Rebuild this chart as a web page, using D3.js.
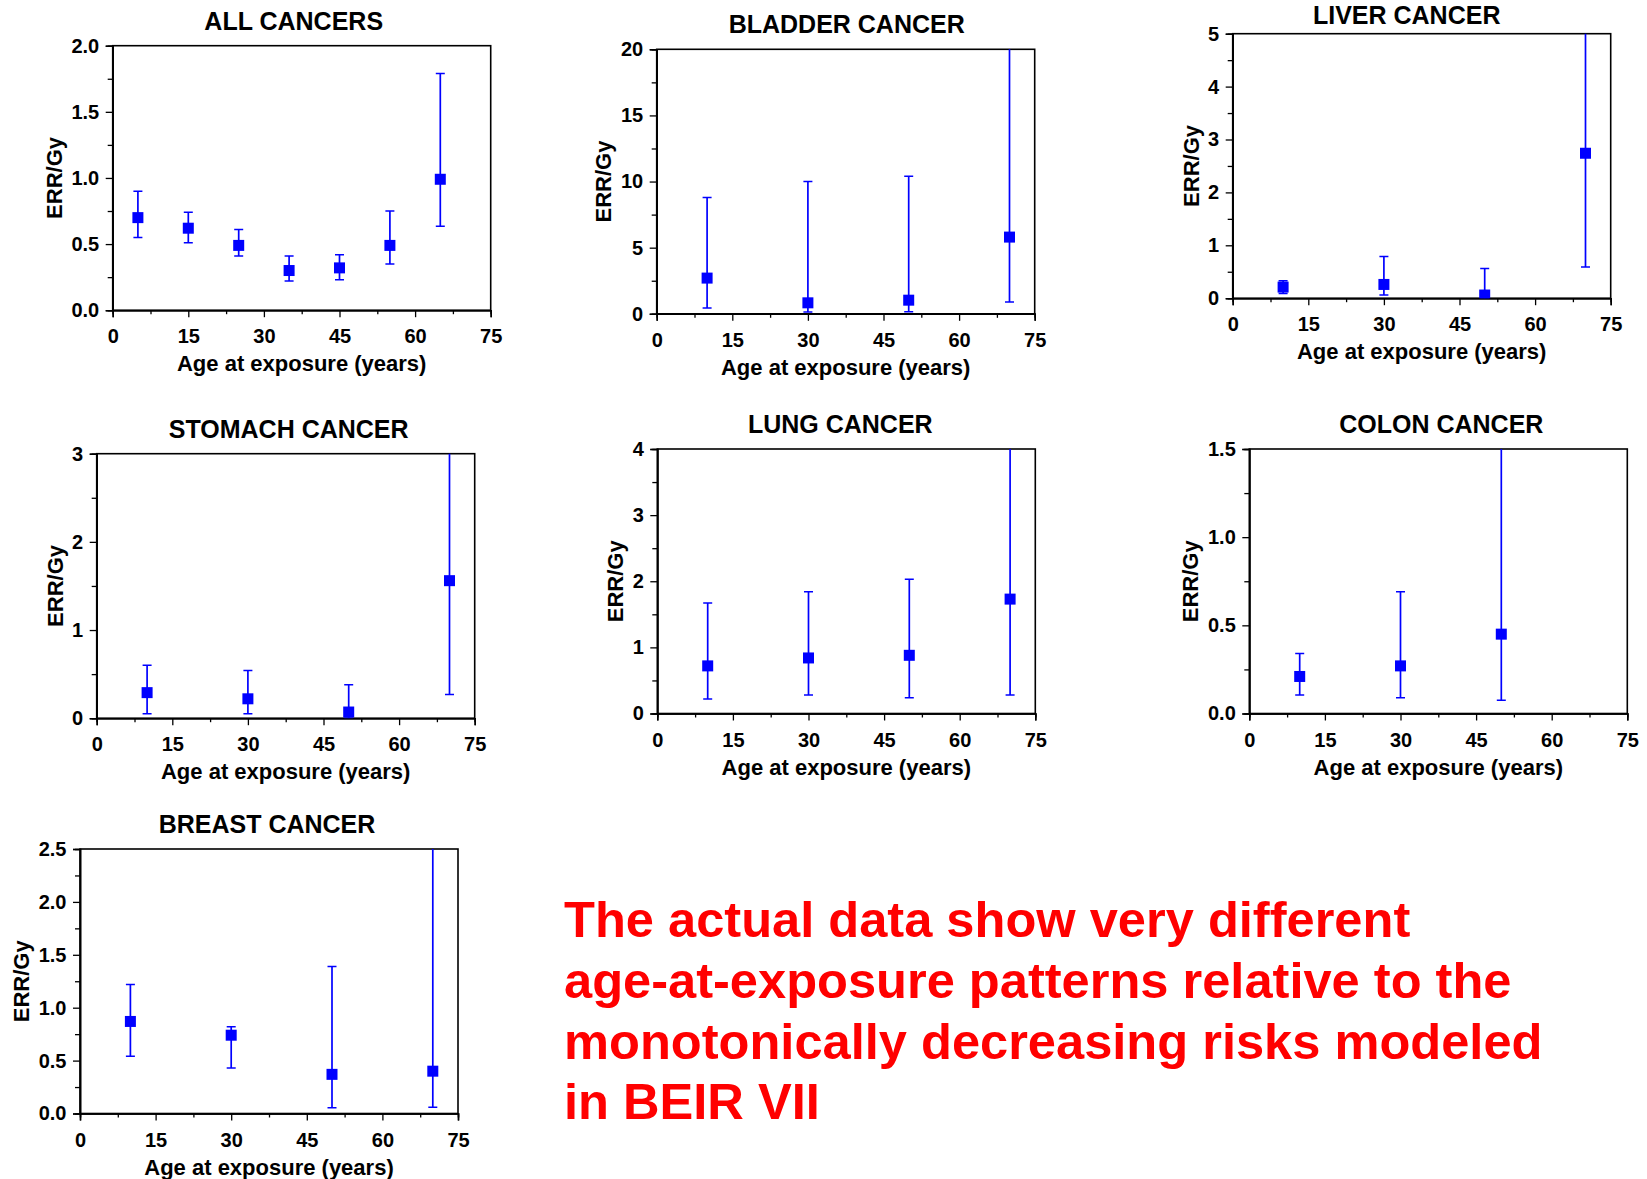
<!DOCTYPE html>
<html>
<head>
<meta charset="utf-8">
<script src="https://d3js.org/d3.v7.min.js"></script>
<style>
  body { margin: 0; background: #fff; }
  svg text { font-family: "Liberation Sans", Arial, sans-serif; font-weight: bold; }
</style>
</head>
<body>
<div id="chart"></div>
<script>
// ---- data ----
var titles = ["ALL CANCERS", "BLADDER CANCER", "LIVER CANCER", "STOMACH CANCER",
  "LUNG CANCER", "COLON CANCER", "BREAST CANCER"];

var ageTicks = [0, 15, 30, 45, 60, 75];

// all cancers
var allAge = [5, 15, 25, 35, 45, 55, 65];
var allErr = [0.70, 0.62, 0.49, 0.30, 0.32, 0.49, 0.99];
var allLo = [0.55, 0.51, 0.41, 0.22, 0.23, 0.35, 0.635];
var allHi = [0.90, 0.74, 0.61, 0.41, 0.42, 0.75, 1.79];

// bladder
var bladderAge = [10, 30, 50, 70];
var bladderErr = [2.7, 0.83, 1.03, 5.8];
var bladderLo = [0.43, 0.13, 0.15, 0.9];
var bladderHi = [8.8, 10.0, 10.4, 25];

// liver
var liverAge = [10, 30, 50, 70];
var liverErr = [0.21, 0.26, 0.06, 2.74];
var liverLo = [0.09, 0.06, 0.0, 0.59];
var liverHi = [0.33, 0.79, 0.56, 6];

// stomach
var stomachAge = [10, 30, 50, 70];
var stomachErr = [0.29, 0.22, 0.07, 1.56];
var stomachLo = [0.05, 0.05, 0.0, 0.27];
var stomachHi = [0.60, 0.54, 0.38, 3.5];

// lung
var lungAge = [10, 30, 50, 70];
var lungErr = [0.72, 0.84, 0.88, 1.73];
var lungLo = [0.22, 0.28, 0.24, 0.28];
var lungHi = [1.67, 1.84, 2.03, 4.5];

// colon
var colonAge = [10, 30, 50];
var colonErr = [0.21, 0.27, 0.45];
var colonLo = [0.105, 0.09, 0.075];
var colonHi = [0.34, 0.69, 1.8];

// breast
var breastAge = [10, 30, 50, 70];
var breastErr = [0.87, 0.74, 0.37, 0.40];
var breastLo = [0.54, 0.43, 0.055, 0.06];
var breastHi = [1.22, 0.82, 1.39, 3.0];

var yMax = [2, 20, 5, 3, 4, 1.5, 2.5];
var yStep = [0.5, 5, 1, 1, 1, 0.5, 0.5];
var yFormat = [".1f", "d", "d", "d", "d", ".1f", ".1f"];

var note = ["The actual data show very different",
  "age-at-exposure patterns relative to the",
  "monotonically decreasing risks modeled",
  "in BEIR VII"];

// ---- layout ----
var plotW = 378, plotH = 264.5;
var layout = [
  { left: 112.7, top: 45.7, titleDx: -8, titleDy: -16 },
  { left: 656.7, top: 49.3, titleDx: 1, titleDy: -16 },
  { left: 1232.7, top: 33.7, titleDx: -15, titleDy: -9.5 },
  { left: 96.7, top: 453.7, titleDx: 3, titleDy: -16 },
  { left: 657.3, top: 449, titleDx: -6, titleDy: -16 },
  { left: 1249.3, top: 449, titleDx: 3, titleDy: -16 },
  { left: 80, top: 849, titleDx: -2, titleDy: -16 }
];

var series = [
  [allAge, allErr, allLo, allHi],
  [bladderAge, bladderErr, bladderLo, bladderHi],
  [liverAge, liverErr, liverLo, liverHi],
  [stomachAge, stomachErr, stomachLo, stomachHi],
  [lungAge, lungErr, lungLo, lungHi],
  [colonAge, colonErr, colonLo, colonHi],
  [breastAge, breastErr, breastLo, breastHi]
];

var blue = "#0000ff";

var svg = d3.select("#chart").append("svg")
  .attr("width", 1647)
  .attr("height", 1179);

series.forEach(function (s, i) {
  var lay = layout[i];
  var pts = s[0].map(function (a, k) {
    return { age: a, err: s[1][k], lo: s[2][k], hi: s[3][k] };
  });

  var x = d3.scaleLinear().domain([0, 75]).range([0, plotW]);
  var y = d3.scaleLinear().domain([0, yMax[i]]).range([plotH, 0]);

  var g = svg.append("g")
    .attr("transform", `translate(${lay.left}, ${lay.top})`);

  // clip so the open-ended bars stop at the frame
  g.append("clipPath").attr("id", "clip" + i)
    .append("rect").attr("x", -10).attr("y", 0)
    .attr("width", plotW + 20).attr("height", plotH);

  // frame
  g.append("rect")
    .attr("width", plotW).attr("height", plotH)
    .attr("fill", "none").attr("stroke", "#000").attr("stroke-width", 1.6);

  // x axis, major + minor ticks
  var xMinor = d3.range(7.5, 75, 15);
  g.append("g").attr("class", "axis")
    .attr("transform", `translate(0, ${plotH})`)
    .call(d3.axisBottom(x).tickValues(xMinor).tickSize(4).tickFormat(""));
  g.append("g").attr("class", "axis")
    .attr("transform", `translate(0, ${plotH})`)
    .call(d3.axisBottom(x).tickValues(ageTicks).tickSize(7).tickPadding(12)
      .tickFormat(d3.format("d")));

  // y axis, major + minor ticks
  var yMajor = d3.range(0, yMax[i] + 1e-9, yStep[i]);
  var yMinorV = d3.range(yStep[i] / 2, yMax[i], yStep[i]);
  g.append("g").attr("class", "axis")
    .call(d3.axisLeft(y).tickValues(yMinorV).tickSize(5).tickFormat(""));
  var yAx = g.append("g").attr("class", "axis")
    .call(d3.axisLeft(y).tickValues(yMajor).tickSize(7).tickPadding(6.5)
      .tickFormat(d3.format(yFormat[i])));

  g.selectAll(".axis path").attr("stroke", "#000").attr("stroke-width", 1.6);
  g.selectAll(".axis line").attr("stroke", "#000").attr("stroke-width", 1.3);
  g.selectAll(".axis text")
    .attr("fill", "#000")
    .style("font-size", "20px");

  var maxW = 0;
  yAx.selectAll("text").each(function () {
    maxW = Math.max(maxW, this.getComputedTextLength());
  });

  // error bars and markers
  var marks = g.append("g").attr("clip-path", `url(#clip${i})`);
  marks.selectAll(".bar").data(pts).enter().append("line")
    .attr("x1", d => x(d.age)).attr("x2", d => x(d.age))
    .attr("y1", d => y(d.lo)).attr("y2", d => y(d.hi))
    .attr("stroke", blue).attr("stroke-width", 1.7);

  var capW = 4.5;
  pts.forEach(function (d) {
    [d.lo, d.hi].forEach(function (v) {
      if (v <= yMax[i]) {
        marks.append("line")
          .attr("x1", x(d.age) - capW).attr("x2", x(d.age) + capW)
          .attr("y1", y(v)).attr("y2", y(v))
          .attr("stroke", blue).attr("stroke-width", 1.5);
      }
    });
  });

  var sz = 11;
  marks.selectAll(".pt").data(pts).enter().append("rect")
    .attr("x", d => x(d.age) - sz / 2)
    .attr("y", d => y(d.err) - sz / 2)
    .attr("width", sz).attr("height", sz)
    .attr("fill", blue);

  // titles
  g.append("text")
    .attr("x", plotW / 2 + lay.titleDx)
    .attr("y", lay.titleDy)
    .attr("text-anchor", "middle")
    .style("font-size", "25px")
    .text(titles[i]);

  g.append("text")
    .attr("x", plotW / 2)
    .attr("y", plotH + 61)
    .attr("text-anchor", "middle")
    .style("font-size", "22px")
    .text("Age at exposure (years)");

  g.append("text")
    .attr("transform", `translate(${-(7 + 6.5 + maxW + 9.5)}, ${plotH / 2}) rotate(-90)`)
    .attr("text-anchor", "middle")
    .style("font-size", "22px")
    .text("ERR/Gy");
});

// red note
svg.append("g").selectAll("text")
  .data(note)
  .enter()
  .append("text")
  .attr("x", 564)
  .attr("y", (d, k) => 937.3 + k * 60.6)
  .attr("fill", "#ff0000")
  .style("font-size", "50.6px")
  .text(d => d);
</script>
</body>
</html>
